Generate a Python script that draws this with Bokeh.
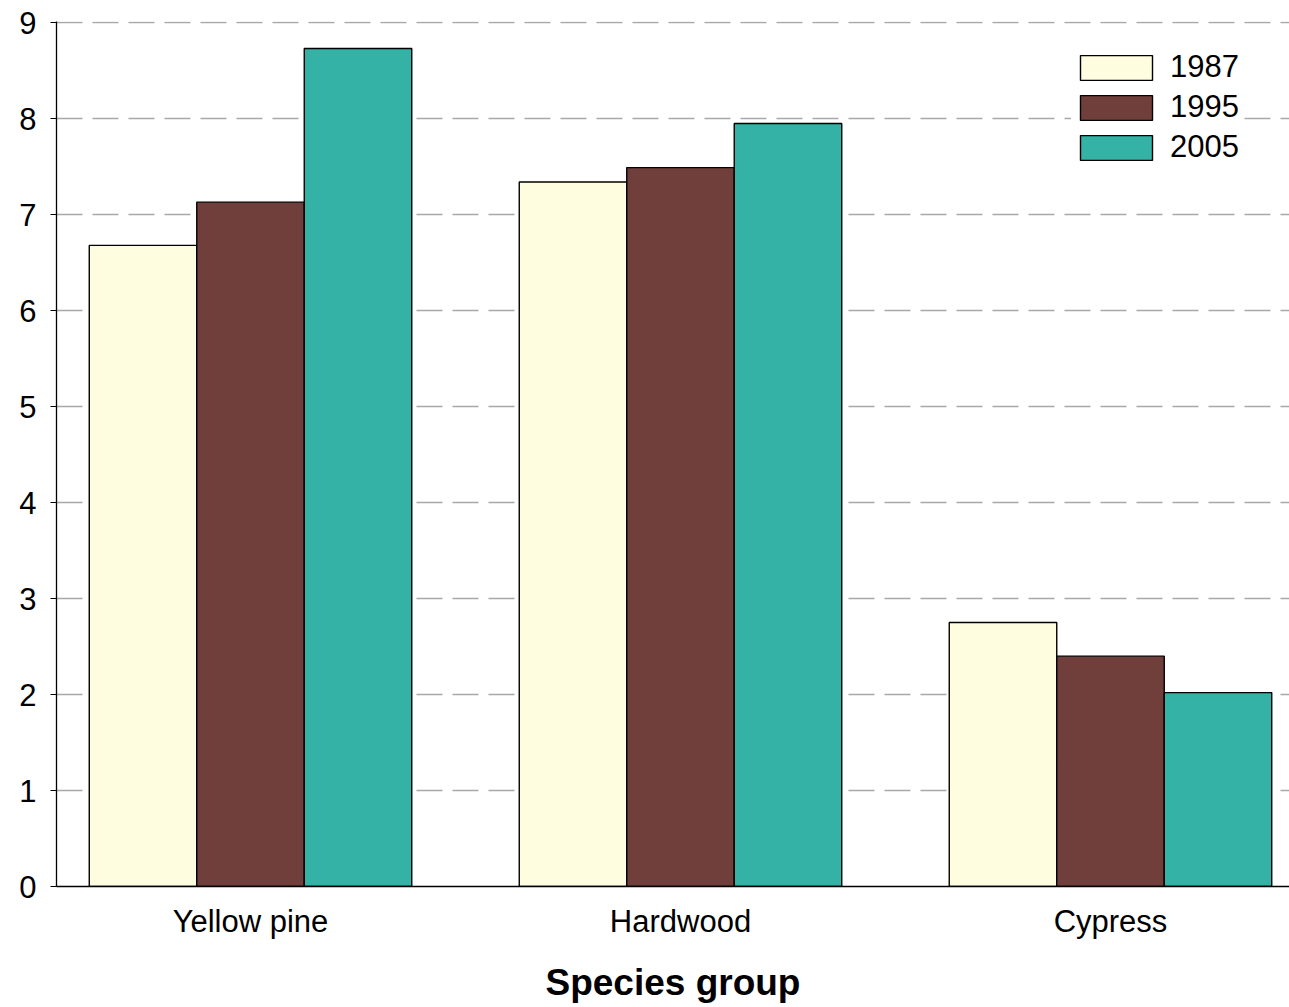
from bokeh.plotting import figure
from bokeh.models import Range1d, FixedTicker, Legend, LegendItem, ColumnDataSource
from bokeh.transform import dodge
from bokeh.embed import file_html
from bokeh.resources import INLINE

# Species groups and values by survey year
groups = ["Yellow pine", "Hardwood", "Cypress"]
years = ["1987", "1995", "2005"]
v1987 = [6.68, 7.34, 2.75]
v1995 = [7.13, 7.49, 2.40]
v2005 = [8.73, 7.95, 2.02]
y_ticks = [0, 1, 2, 3, 4, 5, 6, 7, 8, 9]

colors = ["#FFFDE0", "#713F3B", "#33B2A5"]
FONT = "Liberation Sans"

pos = list(range(len(groups)))
source = ColumnDataSource(dict(x=pos, y1987=v1987, y1995=v1995, y2005=v2005))

p = figure(
    width=1289, height=1007,
    x_range=Range1d(-0.4512, 2.4163), y_range=Range1d(0, 9.012),
    output_backend="svg", toolbar_location=None,
    min_border_left=56, min_border_right=0, min_border_top=21, min_border_bottom=121,
)
p.outline_line_color = None
p.background_fill_color = "white"
p.border_fill_color = "white"

bar_w = 0.25
offsets = [-bar_w, 0.0, bar_w]
cols = ["y1987", "y1995", "y2005"]
renderers = []
for col, off, c in zip(cols, offsets, colors):
    r = p.vbar(x=dodge("x", off, range=p.x_range), top=col, width=bar_w, bottom=0,
               source=source, fill_color=c, line_color="black", line_width=1.4)
    renderers.append(r)

# grid
p.xgrid.visible = False
p.ygrid.ticker = FixedTicker(ticks=y_ticks)
p.ygrid.grid_line_color = "#a8a8a8"
p.ygrid.grid_line_width = 1.5
p.ygrid.grid_line_dash = "26 10"

# y axis
p.yaxis.ticker = FixedTicker(ticks=y_ticks)
p.yaxis.minor_tick_line_color = None
p.yaxis.major_tick_in = 0
p.yaxis.major_tick_out = 6
p.yaxis.major_tick_line_color = "black"
p.yaxis.axis_line_color = "black"
p.yaxis.axis_line_width = 1.3
p.yaxis.major_label_standoff = 14
p.yaxis.major_label_text_font = FONT
p.yaxis.major_label_text_font_size = "31px"
p.yaxis.major_label_text_color = "black"

# x axis
p.xaxis.ticker = FixedTicker(ticks=pos)
p.xaxis.major_label_overrides = {i: g for i, g in zip(pos, groups)}
p.xaxis.minor_tick_line_color = None
p.xaxis.major_tick_in = 0
p.xaxis.major_tick_out = 0
p.xaxis.axis_line_color = "black"
p.xaxis.axis_line_width = 1.3
p.xaxis.major_label_standoff = 17
p.xaxis.major_label_text_font = FONT
p.xaxis.major_label_text_font_size = "31px"
p.xaxis.major_label_text_color = "black"
p.xaxis.axis_label = "Species group"
p.xaxis.axis_label_text_font = FONT
p.xaxis.axis_label_text_font_style = "bold"
p.xaxis.axis_label_text_font_size = "37px"
p.xaxis.axis_label_text_color = "black"
p.xaxis.axis_label_standoff = 20

legend = Legend(
    items=[LegendItem(label=y, renderers=[r]) for y, r in zip(years, renderers)],
    location=(1015, 721),
    glyph_width=90, glyph_height=31, label_standoff=9, spacing=4, padding=15,
    border_line_color=None, background_fill_color="white", background_fill_alpha=1.0,
    label_text_font=FONT, label_text_font_size="31px", label_text_color="black",
    margin=0,
)
p.add_layout(legend)

open("out.html", "w").write(file_html(p, INLINE))
